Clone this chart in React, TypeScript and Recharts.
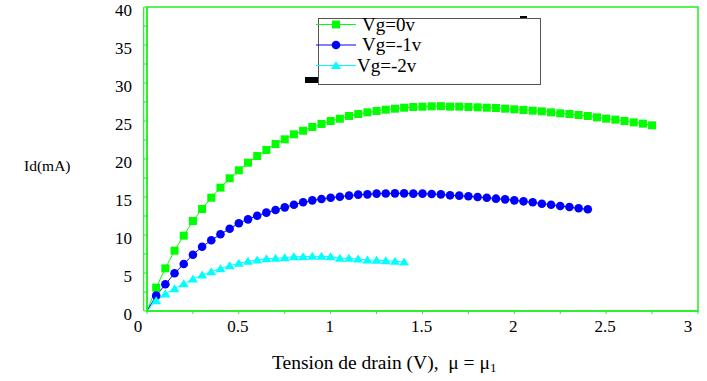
import { Line, LineChart, ReferenceArea, ReferenceLine, XAxis, YAxis } from "recharts";

// drain voltage (V), one entry per measured point
const VD = [
  0, 0.05, 0.1, 0.15, 0.2, 0.25, 0.3, 0.35, 0.4, 0.45, 0.5, 0.55, 0.6, 0.65, 0.7, 0.75, 0.8, 0.85, 0.9, 0.95,
  1, 1.05, 1.1, 1.15, 1.2, 1.25, 1.3, 1.35, 1.4, 1.45, 1.5, 1.55, 1.6, 1.65, 1.7, 1.75, 1.8, 1.85, 1.9, 1.95,
  2, 2.05, 2.1, 2.15, 2.2, 2.25, 2.3, 2.35, 2.4, 2.45, 2.5, 2.55, 2.6, 2.65, 2.7, 2.75,
];

// drain current (mA)
const ID_VG0 = [
  0, 3.07, 5.61, 7.94, 9.91, 11.84, 13.42, 14.91, 16.23, 17.46, 18.51, 19.51, 20.39, 21.18, 21.97, 22.59, 23.25,
  23.72, 24.21, 24.61, 25.0, 25.3, 25.66, 25.92, 26.14, 26.32, 26.49, 26.62, 26.75, 26.84, 26.88, 26.93, 26.95,
  26.89, 26.89, 26.84, 26.8, 26.75, 26.71, 26.62, 26.54, 26.45, 26.36, 26.27, 26.14, 26.01, 25.92, 25.79, 25.66,
  25.48, 25.31, 25.18, 25.0, 24.82, 24.65, 24.43,
];
const ID_VG1 = [
  0, 2.02, 3.51, 4.96, 6.18, 7.41, 8.46, 9.3, 10.09, 10.83, 11.54, 12.06, 12.54, 12.94, 13.29, 13.64, 13.99, 14.3,
  14.56, 14.74, 14.91, 15.04, 15.18, 15.31, 15.35, 15.44, 15.46, 15.48, 15.48, 15.44, 15.44, 15.39, 15.35, 15.22,
  15.18, 15.09, 15.0, 14.91, 14.78, 14.69, 14.56, 14.43, 14.3, 14.12, 13.99, 13.82, 13.68, 13.51, 13.38,
];
const ID_VG2 = [
  0, 1.36, 2.24, 2.94, 3.6, 4.21, 4.74, 5.18, 5.57, 5.96, 6.27, 6.54, 6.71, 6.89, 6.93, 7.02, 7.15, 7.15, 7.19,
  7.19, 7.15, 6.93, 6.93, 6.84, 6.71, 6.67, 6.62, 6.54, 6.45,
];

const X_TICKS = [0, 0.25, 0.5, 0.75, 1, 1.25, 1.5, 1.75, 2, 2.25, 2.5, 2.75, 3];
const X_LABELS = [0, 0.5, 1, 1.5, 2, 2.5, 3];
const Y_TICKS = [0, 2.5, 5, 7.5, 10, 12.5, 15, 17.5, 20, 22.5, 25, 27.5, 30, 32.5, 35, 37.5, 40];
const Y_LABELS = [0, 5, 10, 15, 20, 25, 30, 35, 40];

const FONT = '"Liberation Serif", "Times New Roman", serif';
const FRAME = "#22ee22";
const txt = (size: number) => ({ fontFamily: FONT, fontSize: size, fontWeight: 400 });

const SERIES = [
  { name: "Vg=0v", values: ID_VG0, color: "#00ff00", shape: "square" },
  { name: "Vg=-1v", values: ID_VG1, color: "#0000ff", shape: "circle" },
  { name: "Vg=-2v", values: ID_VG2, color: "#00ffff", shape: "triangle" },
];

function Marker({ shape, color, cx, cy }: { shape: string; color: string; cx: number; cy: number }) {
  if (shape === "square") return <rect x={cx - 4} y={cy - 4} width={8} height={8} fill={color} />;
  if (shape === "circle") return <circle cx={cx} cy={cy} r={4.3} fill={color} />;
  return <polygon points={`${cx},${cy - 4.5} ${cx + 5},${cy + 3.5} ${cx - 5},${cy + 3.5}`} fill={color} />;
}

function makeDot(shape: string, color: string) {
  return (p: any) => {
    if (p.index === 0 || p.cx == null) return <g key={`d${p.index}`} />;
    return <Marker key={`d${p.index}`} shape={shape} color={color} cx={p.cx} cy={p.cy} />;
  };
}

function XTick({ x, y, payload }: any) {
  if (!X_LABELS.includes(payload.value)) return <g />;
  const shift = payload.value === 0 ? -9 : payload.value === 3 ? -10 : -1;
  return (
    <text x={x + shift} y={y + 18} textAnchor="middle" fontFamily={FONT} style={txt(17)} fill="#000">
      {payload.value}
    </text>
  );
}

function YTick({ x, y, payload }: any) {
  if (!Y_LABELS.includes(payload.value)) return <g />;
  return (
    <text x={x - 12} y={y + 9} textAnchor="end" fontFamily={FONT} style={txt(17)} fill="#000">
      {payload.value}
    </text>
  );
}

function LegendBox() {
  return (
    <div style={{ position: "absolute", left: 296, top: 14, width: 250, height: 74 }}>
      <div style={{ position: "absolute", left: 9, top: 63, width: 13, height: 6, background: "#000" }} />
      <div style={{ position: "absolute", left: 224, top: 2, width: 7, height: 2, background: "#000" }} />
      <div
        style={{
          position: "absolute",
          left: 22,
          top: 4,
          width: 221,
          height: 65,
          border: "1px solid #555",
          background: "#fff",
        }}
      />
      <svg style={{ position: "absolute", left: 0, top: 0 }} width={250} height={74}>
        {SERIES.map((s, i) => {
          const cy = 10.5 + i * 20.5;
          return (
            <g key={s.name}>
              <line x1={20} x2={60} y1={cy} y2={cy} stroke={s.color} strokeWidth={1} />
              <Marker shape={s.shape} color={s.color} cx={40} cy={cy} />
              <text x={i === 2 ? 61 : 66} y={cy + 6} style={txt(19)} fill="#000">
                {s.name}
              </text>
            </g>
          );
        })}
      </svg>
    </div>
  );
}

export default function App() {
  return (
    <div style={{ position: "absolute", left: 0, top: 0, width: 707, height: 381, background: "#fff" }}>
      <LineChart width={707} height={381} margin={{ top: 7, right: 9, left: 0, bottom: 10 }}>
        <XAxis
          type="number"
          dataKey="v"
          domain={[0, 3]}
          ticks={X_TICKS}
          interval={0}
          allowDuplicatedCategory={false}
          height={60}
          tickSize={3}
          tickMargin={0}
          tick={<XTick />}
          axisLine={{ stroke: FRAME, strokeWidth: 1.5 }}
          tickLine={{ stroke: FRAME }}
          label={{
            content: () => (
              <text x={272} y={369} fontFamily={FONT} style={txt(19.5)} fill="#000">
                Tension de drain (V),{"\u00a0\u00a0"}μ = μ
                <tspan style={txt(13)} dy={3}>
                  1
                </tspan>
              </text>
            ),
          }}
        />
        <YAxis
          type="number"
          domain={[0, 40]}
          ticks={Y_TICKS}
          interval={0}
          width={147}
          tickSize={3}
          tickMargin={0}
          tick={<YTick />}
          axisLine={{ stroke: FRAME, strokeWidth: 1.5 }}
          tickLine={{ stroke: FRAME }}
          label={{
            content: () => (
              <text x={24} y={171} fontFamily={FONT} style={txt(15.5)} fill="#000">
                Id(mA)
              </text>
            ),
          }}
        />
        <ReferenceArea
          x1={0}
          x2={3}
          y1={0}
          y2={40}
          fill="none"
          fillOpacity={0}
          stroke={FRAME}
          strokeWidth={1.5}
          ifOverflow="visible"
        />
        <ReferenceLine
          segment={[
            { x: -0.018, y: 0 },
            { x: -0.018, y: 40 },
          ]}
          stroke={FRAME}
          strokeWidth={1.2}
          ifOverflow="visible"
        />
        {SERIES.map((s) => (
          <Line
            key={s.name}
            data={s.values.map((id, i) => ({ v: VD[i], id }))}
            dataKey="id"
            name={s.name}
            type="linear"
            stroke={s.color}
            strokeWidth={1}
            dot={makeDot(s.shape, s.color)}
            activeDot={false}
            isAnimationActive={false}
          />
        ))}
      </LineChart>
      <LegendBox />
    </div>
  );
}
